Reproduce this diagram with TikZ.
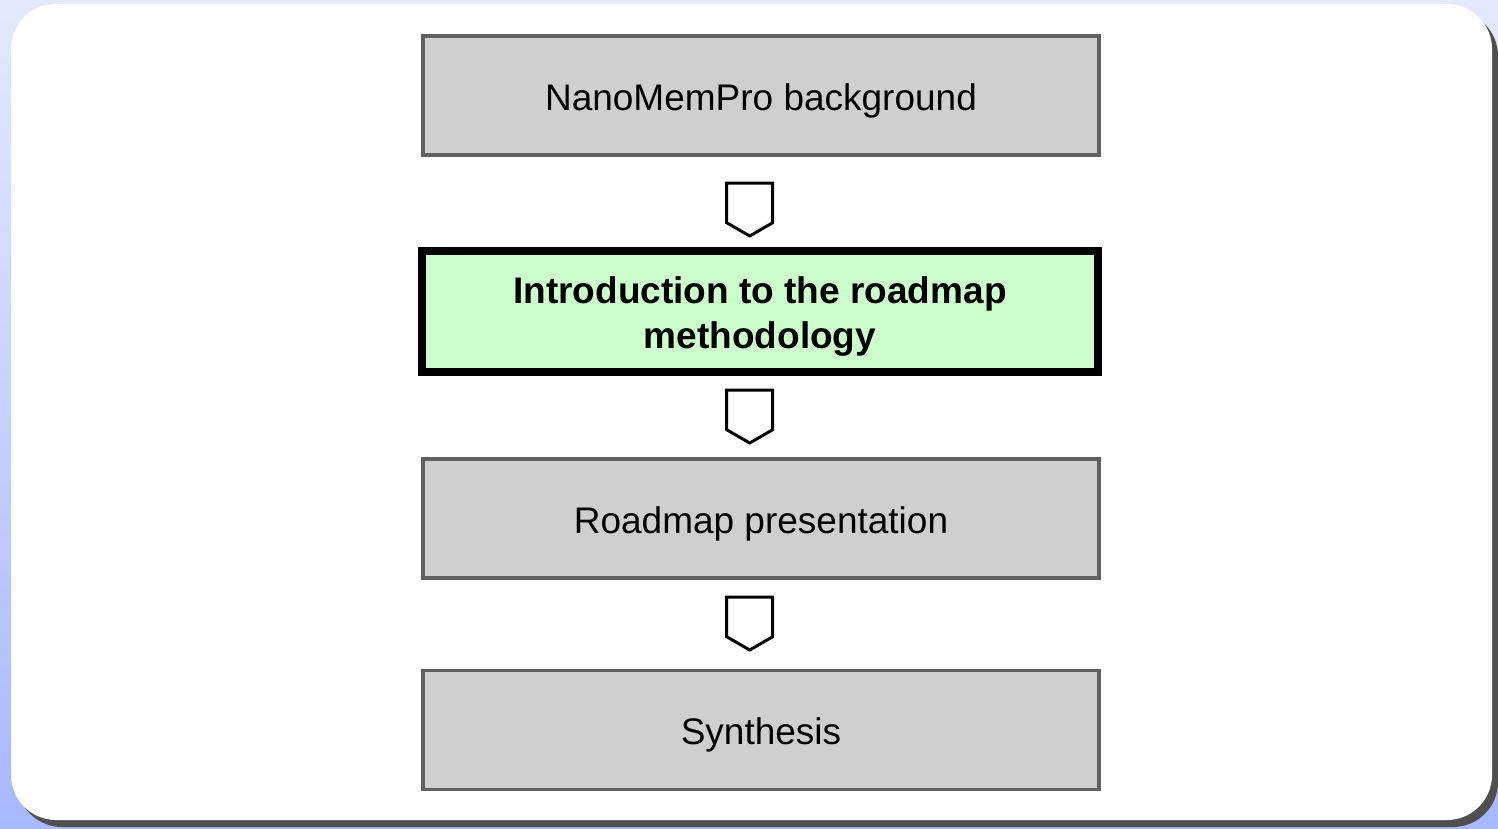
\documentclass[tikz,border=0pt]{standalone}
\usepackage{fontspec}
\setmainfont{Liberation Sans}
\definecolor{bgtop}{HTML}{E4E9FC}
\definecolor{bgbot}{HTML}{A8B8FF}
\definecolor{shadowgray}{HTML}{4F4F4F}
\definecolor{boxgray}{HTML}{CFCFCF}
\definecolor{boxedge}{HTML}{606060}
\definecolor{boxgreen}{HTML}{CCFFCC}
\tikzset{
  boxbase/.style={line width=3.5pt, minimum width=676pt,
    minimum height=119pt, inner sep=0pt},
  stagebox/.style={boxbase, draw=boxedge, fill=boxgray, text height=37pt, text depth=8pt,
    font=\fontsize{37}{44.5}\selectfont},
  currentbox/.style={boxbase, draw=black, line width=8pt, fill=boxgreen, minimum height=121pt,
    align=center, font=\fontsize{37}{44.5}\selectfont\bfseries},
  downarrow/.style={draw=black, line width=3pt, fill=white, line join=miter}
}
\begin{document}
\begin{tikzpicture}[x=1pt,y=-1pt]
  \useasboundingbox (0,0) rectangle (1498,828);
  \shade[top color=bgtop, bottom color=bgbot] (0,0) rectangle (1498,828);
  \fill[shadowgray, rounded corners=45pt] (17,11) rectangle (1498,827);
  \fill[white, rounded corners=45pt] (11,4) rectangle (1492,820);

  \node[stagebox] (bg) at (761,95.5) {NanoMemPro background};
  \node[currentbox] (intro) at (760,311.5) {\rule{0pt}{36.4pt}Introduction to the roadmap\\methodology};
  \node[stagebox] (pres) at (761,518.5) {Roadmap presentation};
  \node[stagebox] (syn) at (761,730) {Synthesis};

  \coordinate (a1) at (749.7,183);
  \coordinate (a2) at (749.7,390);
  \coordinate (a3) at (749.7,597);
  \foreach \c in {a1,a2,a3}{
    \draw[downarrow] ([xshift=-23pt]\c) -- ([xshift=23pt]\c) -- ([xshift=23pt,yshift=-39.7pt]\c)
      -- ([yshift=-53pt]\c) -- ([xshift=-23pt,yshift=-39.7pt]\c) -- cycle;
  }
\end{tikzpicture}
\end{document}
